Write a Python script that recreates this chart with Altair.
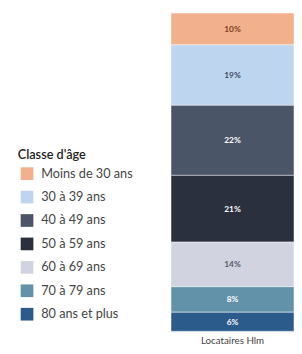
import altair as alt
import pandas as pd

categories = ["Moins de 30 ans", "30 à 39 ans", "40 à 49 ans", "50 à 59 ans",
              "60 à 69 ans", "70 à 79 ans", "80 ans et plus"]
values = [10, 19, 22, 21, 14, 8, 6]
colors = ["#F3B08C", "#BDD5EE", "#4B5568", "#2B303F", "#D1D3E0", "#6192A9", "#2B5B8B"]
text_colors = ["#7a3e22", "#3a4a66", "#ffffff", "#ffffff", "#555a6e", "#ffffff", "#ffffff"]
group = "Locataires Hlm"

df = pd.DataFrame({
    "cat": categories,
    "val": values,
    "ord": list(range(len(categories))),
    "tcol": text_colors,
    "grp": [group] * len(categories),
})
df["label"] = df["val"].astype(str) + "%"

base = alt.Chart(df).transform_stack(
    stack="val", groupby=["grp"], as_=["v0", "v1"], sort=[alt.SortField("ord", order="descending")]
).transform_calculate(mid="(datum.v0 + datum.v1) / 2")

yscale = alt.Scale(domain=[0, 100], nice=False, zero=True)
xaxis = alt.Axis(title=None, ticks=False, domain=False, labelAngle=0, labelFontSize=10,
                 labelColor="#444444", labelFont="Lato", labelPadding=5)

bars = base.mark_bar(stroke="#ffffff", strokeWidth=0.5).encode(
    x=alt.X("grp:N", axis=xaxis, scale=alt.Scale(paddingInner=0, paddingOuter=0)),
    y=alt.Y("v0:Q", scale=yscale, axis=None),
    y2="v1:Q",
    color=alt.Color("cat:N", sort=categories,
                    scale=alt.Scale(domain=categories, range=colors),
                    legend=alt.Legend(title="Classe d'âge", orient="none",
                                      legendX=-157, legendY=139,
                                      symbolType="square", symbolSize=169,
                                      symbolStrokeWidth=0, symbolOpacity=1, symbolOffset=3,
                                      titleFont="Lato", titleFontSize=13, titleFontWeight=600,
                                      titleColor="#222222", titlePadding=6,
                                      labelFont="Lato", labelFontSize=13, labelColor="#444444",
                                      rowPadding=10, labelOffset=8)),
)

texts = base.mark_text(font="Lato", fontSize=8.5, fontWeight="bold").encode(
    x=alt.X("grp:N"),
    y=alt.Y("mid:Q", scale=yscale),
    text="label:N",
    color=alt.Color("tcol:N", scale=None, legend=None),
)

chart = alt.layer(bars, texts).properties(
    width=126, height=326,
    autosize=alt.AutoSizeParams(type="none"),
    padding={"left": 167, "top": 1, "right": 0, "bottom": 16},
).configure_view(stroke=None).configure(background="#ffffff")

chart.save("out.html", embed_options={"renderer": "svg", "actions": False})
